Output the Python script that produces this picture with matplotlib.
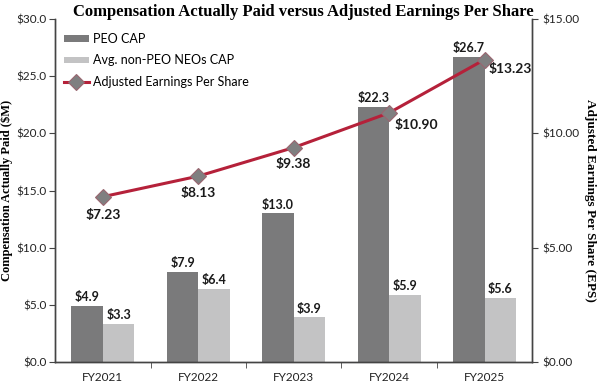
import matplotlib
matplotlib.use("Agg")
import matplotlib.pyplot as plt
import numpy as np

# données
years = ["FY2021", "FY2022", "FY2023", "FY2024", "FY2025"]
peo_cap = [4.9, 7.9, 13.0, 22.3, 26.7]
neo_cap = [3.3, 6.4, 3.9, 5.9, 5.6]
eps = [7.23, 8.13, 9.38, 10.90, 13.23]

plt.rcParams['font.family'] = ['Lato', 'DejaVu Sans']

fig = plt.figure(figsize=(6, 3.83), dpi=100)
ax = fig.add_axes([0.092, 0.055, 0.795, 0.895])
ax2 = ax.twinx()

x = np.arange(len(years))
w = 0.33
b1 = ax.bar(x - w / 2, peo_cap, w, color='#7a7a7b', label='PEO CAP', zorder=2)
b2 = ax.bar(x + w / 2, neo_cap, w, color='#c3c3c4', label='Avg. non-PEO NEOs CAP', zorder=2)

for rect, v in zip(b1, peo_cap):
    ax.annotate(f"${v:.1f}", (rect.get_x() + rect.get_width() / 2, v),
                xytext=(0, 2), textcoords='offset points', ha='center', va='bottom',
                fontsize=9, fontweight='bold', color='#1a1a1a')
for rect, v in zip(b2, neo_cap):
    ax.annotate(f"${v:.1f}", (rect.get_x() + rect.get_width() / 2, v),
                xytext=(0, 2), textcoords='offset points', ha='center', va='bottom',
                fontsize=9, fontweight='bold', color='#1a1a1a')

line, = ax2.plot(x, eps, color='#b5213a', lw=2.2, marker='D', markersize=8,
                 markerfacecolor='#7f7f80', markeredgecolor='#9a6670', markeredgewidth=0.8,
                 label='Adjusted Earnings Per Share', zorder=3)

# position des étiquettes EPS
offsets = [(0, -13, 'center'), (0, -12, 'center'), (0, -12, 'center'), (4, -9, 'left'), (3, -7, 'left')]
for xi, v, (dx, dy, ha) in zip(x, eps, offsets):
    ax2.annotate(f"${v:.2f}", (xi, v), xytext=(dx, dy), textcoords='offset points',
                 ha=ha, va='center', fontsize=10, fontweight='bold', color='#1a1a1a')

ax.set_xlim(-0.5, 4.5)
ax.set_ylim(0, 30)
ax2.set_ylim(0, 15)
ax.set_yticks(np.arange(0, 31, 5))
ax.set_yticklabels([f"${v:.1f}" for v in np.arange(0, 31, 5)])
ax2.set_yticks(np.arange(0, 16, 5))
ax2.set_yticklabels([f"${v:.2f}" for v in np.arange(0, 16, 5)])

ax.set_xticks(x)
ax.set_xticklabels(years)
ax.set_xticks(np.arange(0.5, 4.5, 1), minor=True)
ax.tick_params(axis='x', which='major', length=0, pad=7, labelsize=8.5, colors='#222222')
ax.tick_params(axis='x', which='minor', length=4, direction='out', color='#444444')
ax.tick_params(axis='y', length=4, direction='out', labelsize=8.5, pad=2, colors='#444444', labelcolor='#222222')
ax2.tick_params(axis='y', length=4, direction='out', labelsize=8.5, colors='#444444', labelcolor='#222222')

for a in (ax, ax2):
    a.spines['top'].set_visible(False)
    for s in ('left', 'right', 'bottom'):
        a.spines[s].set_color('#444444')
        a.spines[s].set_linewidth(1.0)

ax.set_ylabel('Compensation Actually Paid ($M)', family='Liberation Serif',
              fontweight='bold', fontsize=9)
ax.yaxis.set_label_coords(-0.088, 0.5)
ax2.set_ylabel('Adjusted Earnings Per Share (EPS)', family='Liberation Serif',
               fontweight='bold', fontsize=9.5, rotation=-90, va='center')
ax2.yaxis.set_label_coords(1.122, 0.47)

fig.text(0.505, 0.968, 'Compensation Actually Paid versus Adjusted Earnings Per Share',
         ha='center', va='center', family='Liberation Serif', fontweight='bold', fontsize=12)

ax.legend([b1, b2, line], ['PEO CAP', 'Avg. non-PEO NEOs CAP', 'Adjusted Earnings Per Share'],
          loc='upper left', bbox_to_anchor=(0.0, 0.985), frameon=False, fontsize=9,
          handlelength=2.0, handleheight=0.45, handletextpad=0.3, labelspacing=0.75,
          borderaxespad=0.3)

fig.savefig('out.png', dpi=100)
